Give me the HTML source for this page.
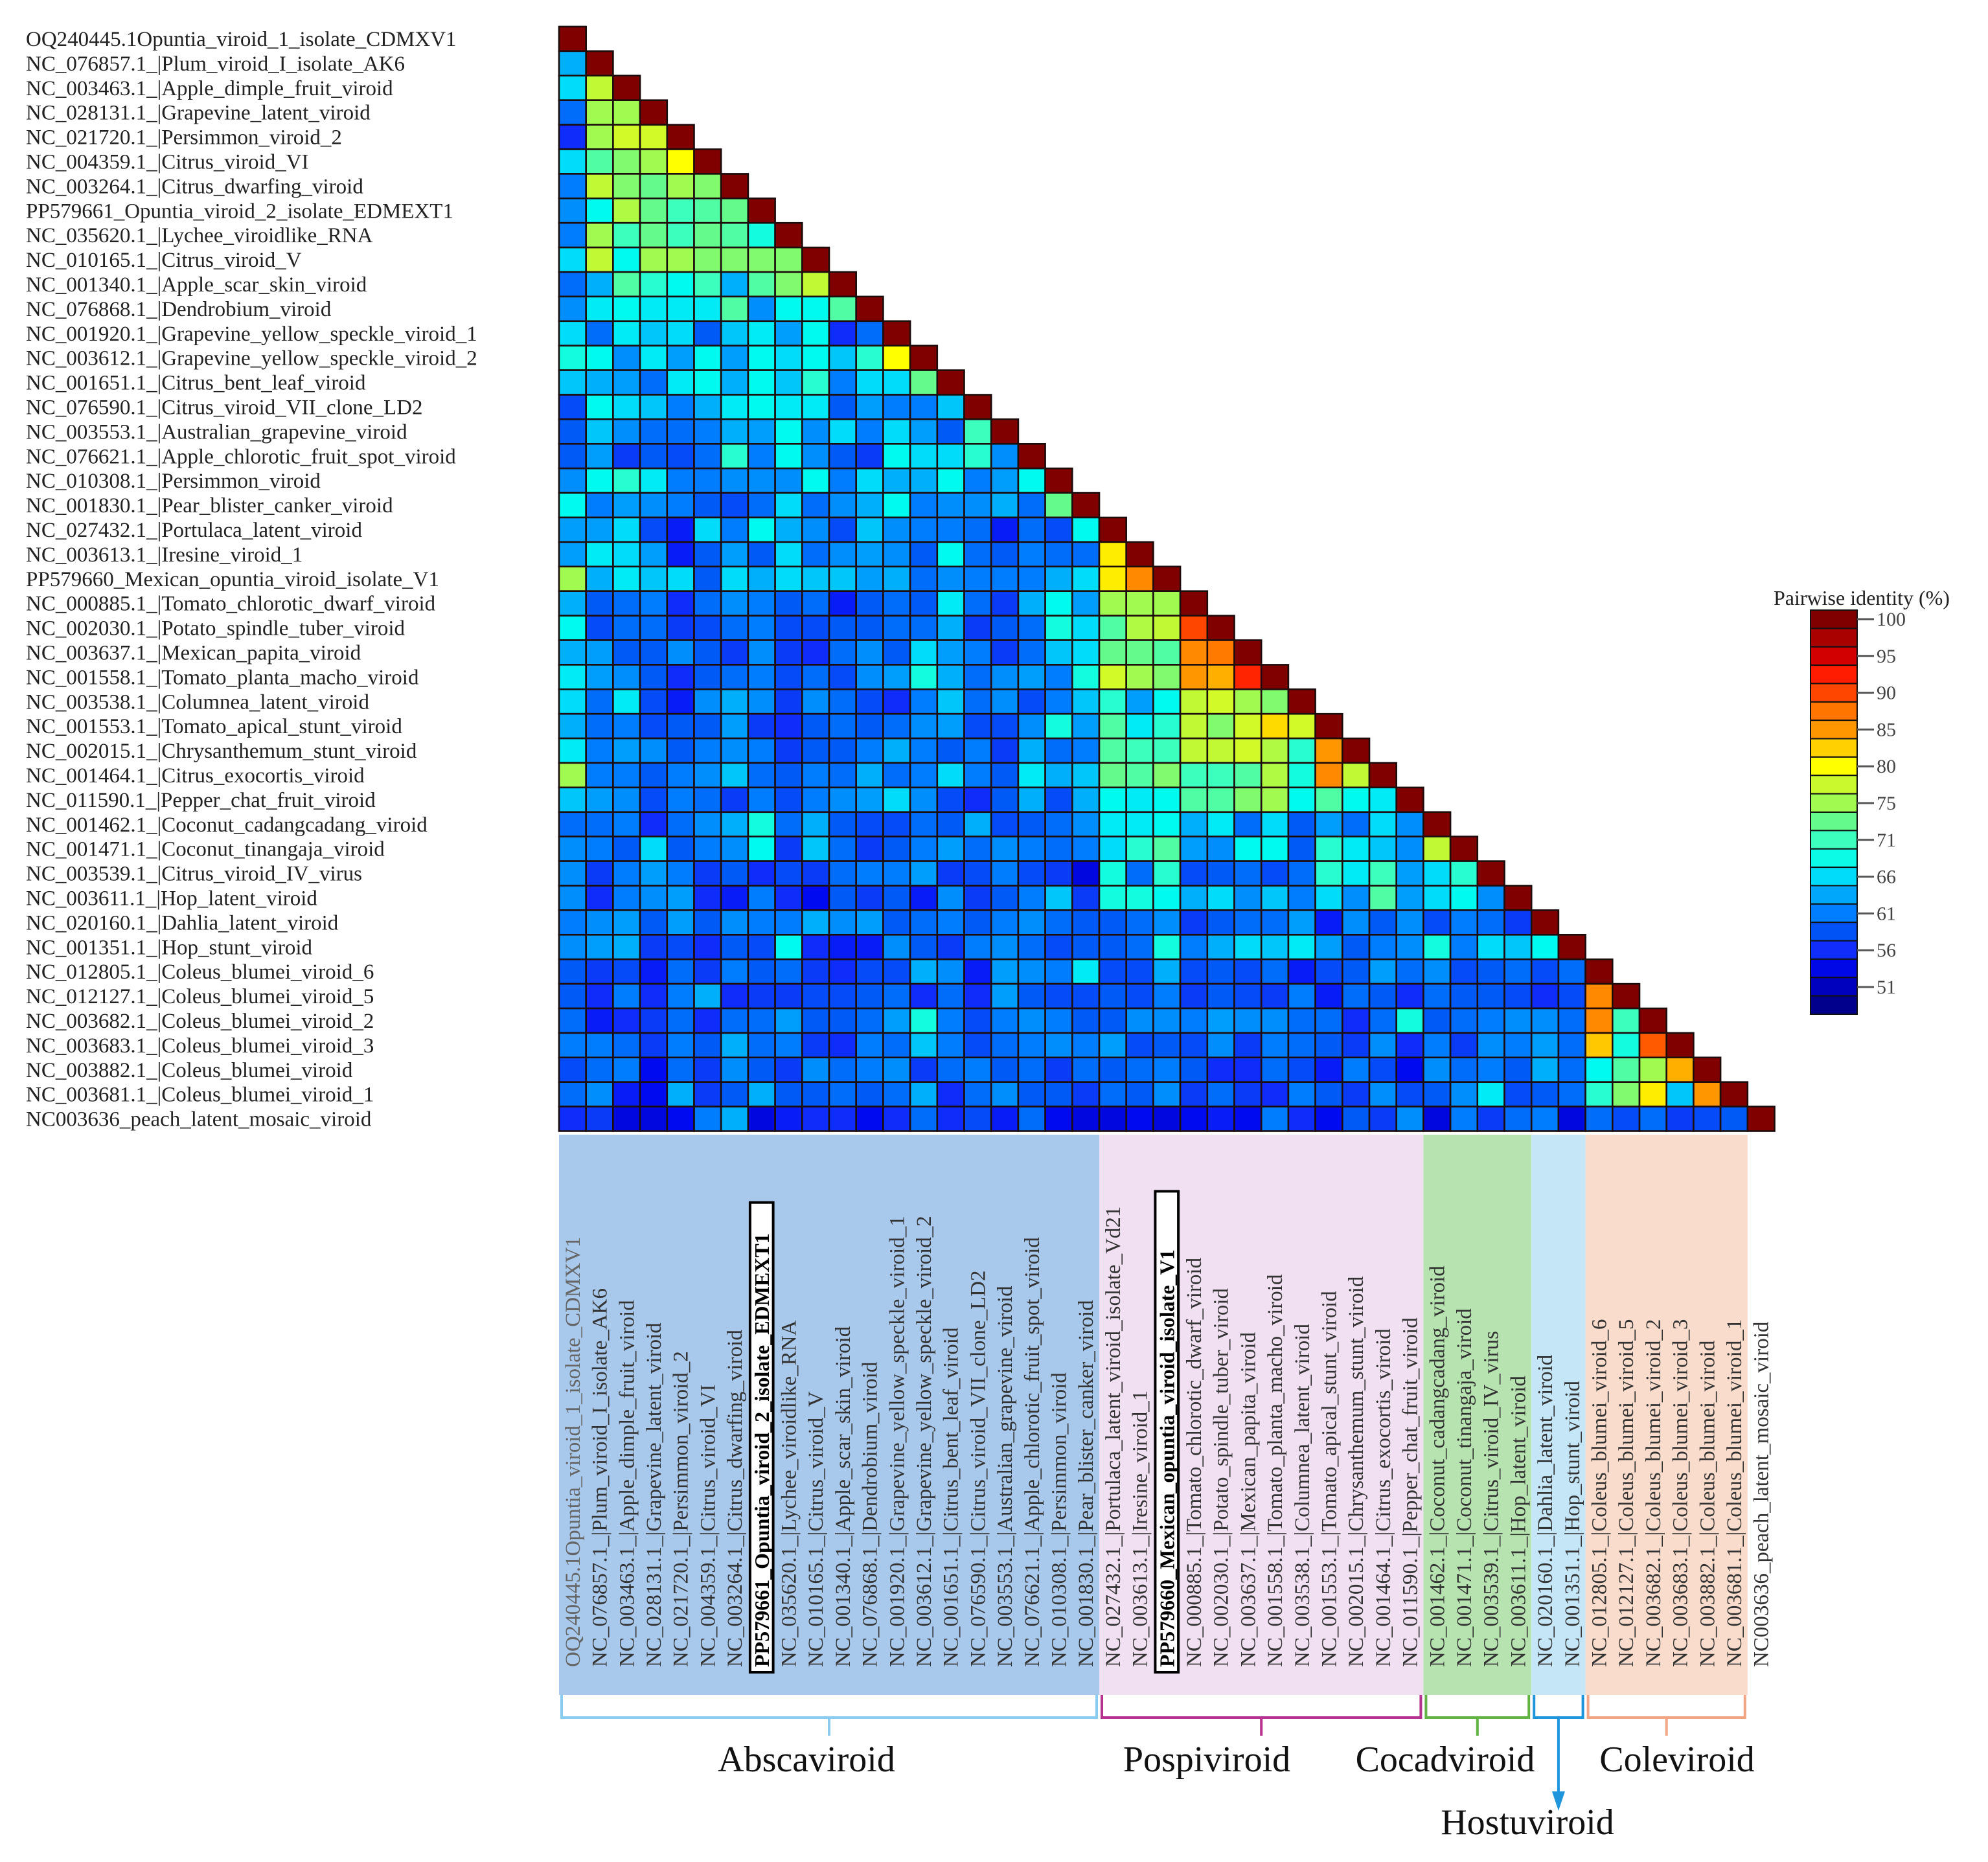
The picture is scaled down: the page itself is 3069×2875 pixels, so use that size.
<!DOCTYPE html>
<html><head><meta charset="utf-8"><title>Pairwise identity heatmap</title>
<style>html,body{margin:0;padding:0;background:#fff}svg{display:block}text{font-family:"Liberation Serif",serif}</style>
</head><body>
<svg id="chart" xmlns="http://www.w3.org/2000/svg" width="3069" height="2875" viewBox="0 0 3069 2875">
<rect x="0" y="0" width="3069" height="2875" fill="#ffffff"/>
<g id="bg"></g><g id="cells"></g><g id="rowlabels"></g><g id="collabels"></g><g id="cbar"></g><g id="brackets"></g>
</svg>
<script>
const rowLabels = ["OQ240445.1Opuntia_viroid_1_isolate_CDMXV1","NC_076857.1_|Plum_viroid_I_isolate_AK6","NC_003463.1_|Apple_dimple_fruit_viroid","NC_028131.1_|Grapevine_latent_viroid","NC_021720.1_|Persimmon_viroid_2","NC_004359.1_|Citrus_viroid_VI","NC_003264.1_|Citrus_dwarfing_viroid","PP579661_Opuntia_viroid_2_isolate_EDMEXT1","NC_035620.1_|Lychee_viroidlike_RNA","NC_010165.1_|Citrus_viroid_V","NC_001340.1_|Apple_scar_skin_viroid","NC_076868.1_|Dendrobium_viroid","NC_001920.1_|Grapevine_yellow_speckle_viroid_1","NC_003612.1_|Grapevine_yellow_speckle_viroid_2","NC_001651.1_|Citrus_bent_leaf_viroid","NC_076590.1_|Citrus_viroid_VII_clone_LD2","NC_003553.1_|Australian_grapevine_viroid","NC_076621.1_|Apple_chlorotic_fruit_spot_viroid","NC_010308.1_|Persimmon_viroid","NC_001830.1_|Pear_blister_canker_viroid","NC_027432.1_|Portulaca_latent_viroid","NC_003613.1_|Iresine_viroid_1","PP579660_Mexican_opuntia_viroid_isolate_V1","NC_000885.1_|Tomato_chlorotic_dwarf_viroid","NC_002030.1_|Potato_spindle_tuber_viroid","NC_003637.1_|Mexican_papita_viroid","NC_001558.1_|Tomato_planta_macho_viroid","NC_003538.1_|Columnea_latent_viroid","NC_001553.1_|Tomato_apical_stunt_viroid","NC_002015.1_|Chrysanthemum_stunt_viroid","NC_001464.1_|Citrus_exocortis_viroid","NC_011590.1_|Pepper_chat_fruit_viroid","NC_001462.1_|Coconut_cadangcadang_viroid","NC_001471.1_|Coconut_tinangaja_viroid","NC_003539.1_|Citrus_viroid_IV_virus","NC_003611.1_|Hop_latent_viroid","NC_020160.1_|Dahlia_latent_viroid","NC_001351.1_|Hop_stunt_viroid","NC_012805.1_|Coleus_blumei_viroid_6","NC_012127.1_|Coleus_blumei_viroid_5","NC_003682.1_|Coleus_blumei_viroid_2","NC_003683.1_|Coleus_blumei_viroid_3","NC_003882.1_|Coleus_blumei_viroid","NC_003681.1_|Coleus_blumei_viroid_1","NC003636_peach_latent_mosaic_viroid"];
const colLabels = rowLabels.map(s=>s);
colLabels[20] = "NC_027432.1_|Portulaca_latent_viroid_isolate_Vd21";
const highlighted = [7, 22];
const groupNames = ["Abscaviroid","Pospiviroid","Cocadviroid","Hostuviroid","Coleviroid"];
const groupStart = [0, 20, 32, 36, 38];
const groupEnd = [20, 32, 36, 38, 44];
const groupBg = ["#a9c9ec","#f1e0f2","#b7e3b1","#c5e6f7","#f9dccb"];
const groupLine = ["#8ccbf0","#b5338f","#62b344","#1f95dc","#f2a585"];
const selfIdentity = 100;
const identityRows = [
[],
[64],
[66,77],
[60,75,75],
[56,75,78,78],
[66,72,74,75,80],
[61,77,74,73,75,74],
[62,68,76,73,71,72,73],
[61,75,71,73,71,73,72,69],
[66,77,68,75,75,74,74,74,74],
[60,64,72,70,68,71,64,72,74,77],
[62,67,68,67,67,67,72,62,68,68,72],
[66,60,67,65,66,59,65,67,63,68,56,60],
[69,68,62,67,63,68,63,68,66,68,65,70,80],
[65,64,63,60,67,68,64,68,65,70,61,66,66,73],
[58,68,66,65,61,64,67,68,67,67,59,63,61,61,65],
[59,65,62,60,60,61,64,63,68,62,66,61,66,63,59,71],
[59,63,57,59,58,60,70,61,68,62,59,57,68,66,66,70,62],
[62,68,70,67,61,61,62,62,62,68,61,66,64,64,68,61,63,68],
[68,61,63,62,61,59,58,60,66,60,62,64,68,61,62,62,64,60,73],
[63,63,66,58,55,66,61,68,64,62,58,65,62,61,61,60,55,60,58,68],
[63,67,66,63,55,59,63,59,66,60,62,63,62,59,68,60,59,61,60,60,81],
[75,64,67,65,66,59,66,64,66,65,65,63,64,60,62,61,61,61,64,66,81,86],
[64,59,60,61,56,60,62,61,59,60,55,59,60,59,67,60,57,64,68,63,75,75,75],
[68,58,60,60,57,58,60,61,58,58,59,59,60,60,64,57,59,60,69,66,72,76,77,90],
[64,63,59,59,62,59,57,62,57,56,60,62,59,66,63,61,57,60,65,66,73,73,72,86,87],
[67,63,62,59,56,59,60,61,58,60,58,62,63,69,64,60,62,63,61,69,78,75,74,85,84,92],
[66,60,67,58,55,62,64,62,57,62,60,58,56,61,65,60,62,58,61,65,70,63,68,77,78,75,74],
[64,60,61,58,59,59,63,57,56,59,60,59,60,62,63,58,58,62,69,63,72,67,70,77,74,78,82,78],
[67,61,63,62,59,61,62,61,57,59,59,61,64,61,59,61,57,64,60,61,72,71,71,77,77,78,76,70,85],
[75,61,61,59,61,62,65,60,59,61,60,64,60,61,66,61,59,67,64,65,73,72,74,71,71,72,76,69,86,77],
[65,63,62,58,61,60,57,61,58,61,62,63,66,62,58,56,59,64,58,64,68,67,68,72,72,74,75,68,72,68,67],
[60,60,61,56,60,62,64,69,60,64,59,58,58,60,59,64,58,59,60,62,67,67,68,64,67,60,66,59,63,60,66,62],
[62,61,59,66,59,61,62,68,57,65,60,57,59,61,63,60,62,61,60,61,66,70,72,63,62,68,68,59,70,67,65,62,77],
[62,57,61,63,61,57,59,56,58,57,60,61,61,63,57,58,61,58,57,53,69,60,70,58,59,60,58,60,70,67,71,63,66,70],
[62,56,61,62,63,56,55,61,56,54,59,57,59,55,62,57,59,61,65,57,69,69,68,64,66,62,65,61,66,62,72,63,66,68,62],
[61,62,63,59,63,59,62,61,61,64,62,63,59,60,61,59,61,62,60,59,59,60,62,57,59,60,60,63,55,62,59,62,58,61,60,57],
[62,63,64,57,58,56,59,58,68,56,55,55,62,59,57,61,62,60,58,59,59,60,69,61,64,66,65,67,63,59,61,62,69,61,66,65,68],
[59,57,58,55,60,57,61,59,60,57,56,58,58,64,62,55,63,62,61,67,58,58,64,58,59,58,60,55,58,59,63,60,62,58,59,60,58,60],
[59,56,61,56,61,64,56,57,57,58,58,59,60,56,60,56,63,59,58,58,59,58,61,57,59,58,57,61,55,60,59,56,60,59,59,58,56,58,86],
[60,55,56,57,60,56,60,60,63,59,59,60,63,69,61,58,61,62,61,59,59,62,62,61,63,62,62,60,60,56,60,69,59,60,61,62,62,60,86,71],
[61,61,60,57,61,59,64,60,61,57,56,61,60,65,61,58,60,61,62,61,63,58,59,58,62,57,61,60,59,57,62,56,61,57,62,61,63,60,83,69,89],
[58,60,61,54,60,57,62,59,57,62,60,61,62,57,60,61,59,60,57,60,59,60,61,59,56,56,60,58,55,61,58,54,62,60,61,59,64,60,68,72,75,84],
[60,62,55,54,64,57,59,64,59,59,60,59,60,64,56,60,62,59,59,57,60,59,62,57,60,57,56,61,59,57,62,58,59,62,67,58,59,60,70,74,81,65,85],
[56,57,53,53,54,61,64,53,55,56,56,54,56,60,56,58,55,60,54,53,53,54,53,54,55,54,61,56,54,59,57,62,53,61,57,60,61,53,60,58,60,57,58,59]
];
const tickValues = [100,95,90,85,80,75,71,66,61,56,51];
const bandCount = 22;

const NS="http://www.w3.org/2000/svg";
function mk(tag, attrs, parent){const e=document.createElementNS(NS,tag);for(const k in attrs)e.setAttribute(k,attrs[k]);parent.appendChild(e);return e;}
const X0=863, Y0=41, CW=41.7, CH=37.9;
const xCol=c=>X0+c*CW, yRow=r=>Y0+r*CH;
const stops=[[49,[0,0,140]],[51,[0,0,190]],[54,[0,10,240]],[56,[15,45,250]],[59,[0,90,245]],[61,[0,125,255]],[64,[0,175,250]],[66,[0,220,250]],[68,[0,250,240]],[71,[60,255,190]],[73,[100,250,140]],[75,[160,250,80]],[78,[210,250,40]],[80,[255,255,0]],[83,[255,200,0]],[85,[255,150,0]],[88,[255,110,0]],[90,[255,70,0]],[93,[255,20,0]],[95,[210,0,0]],[98,[160,0,0]],[100,[128,0,0]]];
function color(v){if(v<=stops[0][0])return "rgb("+stops[0][1]+")";for(let i=1;i<stops.length;i++){if(v<=stops[i][0]){const a=stops[i-1],b=stops[i],t=(v-a[0])/(b[0]-a[0]);return "rgb("+a[1].map((q,j)=>Math.round(q+(b[1][j]-q)*t)).join(",")+")";}}return "rgb(128,0,0)";}

const bg=document.getElementById('bg');
for(let g=0;g<groupNames.length;g++){
  const r=mk('rect',{x:xCol(groupStart[g]),y:1752,width:(groupEnd[g]-groupStart[g])*CW,height:865,fill:groupBg[g]},bg);
  
  
}
const cells=document.getElementById('cells');
const n=rowLabels.length;
for(let r=0;r<n;r++){
  const row=identityRows[r]||[];
  for(let c=0;c<=r;c++){
    const v = c===r ? selfIdentity : row[c];
    if(v===undefined) continue;
    const e=mk('rect',{x:xCol(c),y:yRow(r),width:CW,height:CH,fill:color(v),stroke:'#1c0c0c','stroke-width':2.6},cells);
    
    
  }
}
const rl=document.getElementById('rowlabels');
rowLabels.forEach((s,i)=>{
  const t=mk('text',{x:40,y:yRow(i)+CH/2+11,'font-size':33,fill:'#222'},rl);
  t.textContent=s;
  
  
});
const cl=document.getElementById('collabels');
colLabels.forEach((s,i)=>{
  const cx=xCol(i)+CW/2+11, by=2574;
  const hi=highlighted.includes(i);
  if(hi){
    const w=s.length*17.3;
    const b=mk('rect',{x:xCol(i)+3,y:by-w-8,width:CW-6,height:w+16,fill:'#fff',stroke:'#000','stroke-width':4},cl);
    
    
  }
  const t=mk('text',{x:cx,y:by,'font-size':hi?32:33,fill:hi?'#000':(i===0?'#666':'#333'),'font-weight':hi?'bold':'normal',transform:'rotate(-90 '+cx+' '+by+')'},cl);
  t.textContent=s;
  
  
});
const cb=document.getElementById('cbar');
const tickY0=956, tickStep=56.8, barTop=942, barBot=1566, barX=2795, barW=72;
function valAtY(y){const k=(y-tickY0)/tickStep;const i=Math.max(0,Math.min(tickValues.length-2,Math.floor(k)));return tickValues[i]+(tickValues[i+1]-tickValues[i])*(k-i);}
const bh=(barBot-barTop)/bandCount;
for(let b=0;b<bandCount;b++){
  const y=barTop+b*bh;
  const e=mk('rect',{x:barX,y:y,width:barW,height:bh,fill:color(valAtY(y+bh/2)),stroke:'#111','stroke-width':2},cb);
  
  
}
tickValues.forEach((v,i)=>{
  const y=tickY0+i*tickStep;
  const l=mk('line',{x1:barX+barW,x2:barX+barW+26,y1:y,y2:y,stroke:'#555','stroke-width':3},cb);
  
  
  const t=mk('text',{x:barX+barW+30,y:y+10,'font-size':30,fill:'#444'},cb);
  t.textContent=v;
  
  
});
const ct=mk('text',{x:2738,y:934,'font-size':32,fill:'#222'},cb);
ct.textContent='Pairwise identity  (%)';


const br=document.getElementById('brackets');
const labelX=[1245,1863,2231,2358,2589];
const labelY=[2735,2735,2735,2832,2735];
for(let g=0;g<groupNames.length;g++){
  const x1=xCol(groupStart[g])+4, x2=xCol(groupEnd[g])-4, mx=(x1+x2)/2;
  const p=mk('path',{d:`M${x1} 2617 L${x1} 2652 L${x2} 2652 L${x2} 2617 M${mx} 2652 L${mx} ${g===3?2770:2680}`,fill:'none',stroke:groupLine[g],'stroke-width':4},br);
  
  
  if(g===3){
    const a=mk('path',{d:`M${mx-10} 2766 L${mx+10} 2766 L${mx} 2796 Z`,fill:groupLine[g]},br);
    
    
  }
  const t=mk('text',{x:labelX[g],y:labelY[g],'font-size':56,fill:'#111','text-anchor':'middle'},br);
  t.textContent=groupNames[g];
  
  
}
</script>
</body></html>
